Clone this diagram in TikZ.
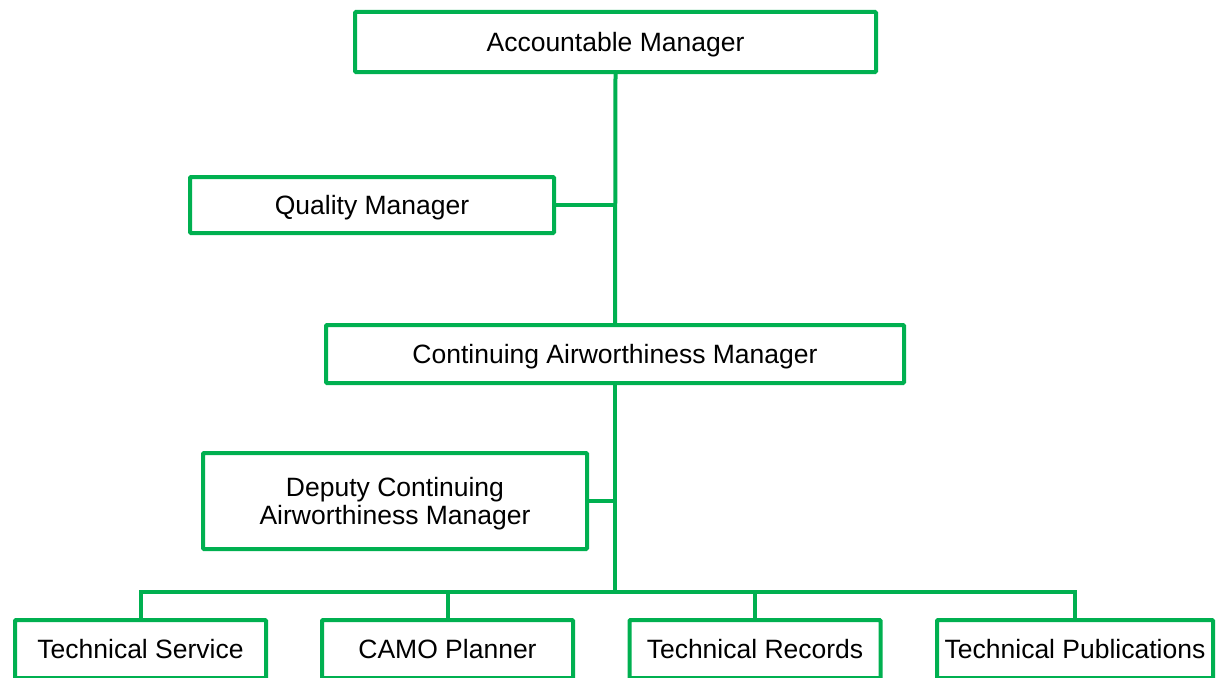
\documentclass[tikz,border=0pt]{standalone}
\usepackage{fontspec}
\setmainfont{Liberation Sans}
\definecolor{orggreen}{RGB}{0,176,80}
\tikzset{
  orgbox/.style={draw=orggreen, line width=4pt, fill=white, rounded corners=1pt,
    inner sep=0pt, align=center, font=\fontsize{26.5}{28}\selectfont, text=black,
    text depth=0pt},
  link/.style={draw=orggreen, line width=4pt, line join=miter}
}
\begin{document}
\begin{tikzpicture}[x=1pt,y=-1pt]
\useasboundingbox (0,0) rectangle (1217,677);
\node[orgbox, minimum width=521pt, minimum height=60pt] (am) at (615.5,42) {Accountable Manager};
\node[orgbox, minimum width=364pt, minimum height=56pt] (qm) at (372,205) {Quality Manager};
\node[orgbox, minimum width=578pt, minimum height=58pt] (cam) at (615,354) {Continuing Airworthiness Manager};
\node[orgbox, minimum width=384pt, minimum height=96pt] (dcam) at (395,501) {Deputy Continuing\\Airworthiness Manager};
\node[orgbox, minimum width=251pt, minimum height=58pt] (ts) at (140.5,649) {Technical Service};
\node[orgbox, minimum width=251pt, minimum height=58pt] (cp) at (447.5,649) {CAMO Planner};
\node[orgbox, minimum width=251pt, minimum height=58pt] (tr) at (755,649) {Technical Records};
\node[orgbox, minimum width=276pt, minimum height=58pt] (tp) at (1075,649) {Technical Publications};
\coordinate (bus) at (615,592);
\draw[link] (am.south) -- (cam.north);
\draw[link] (qm.east) -- (qm.east -| am.south);
\draw[link] (cam.south) -- (bus);
\draw[link] (dcam.east) -- (dcam.east -| cam.south);
\draw[link] (ts.north) |- (bus) -| (tp.north);
\draw[link] (cp.north) -- (cp.north |- bus);
\draw[link] (tr.north) -- (tr.north |- bus);
\end{tikzpicture}
\end{document}
